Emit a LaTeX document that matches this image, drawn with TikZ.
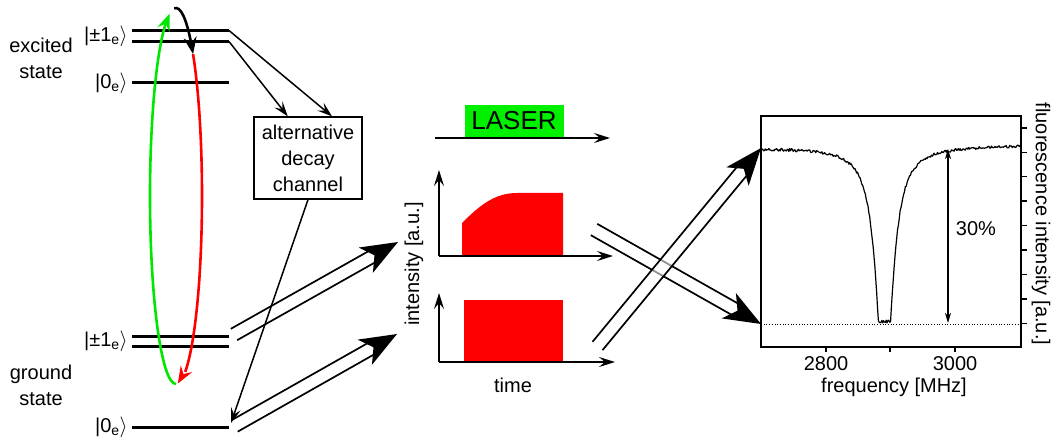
\documentclass[tikz,border=0pt]{standalone}
\usepackage{fontspec}
\setmainfont{Liberation Sans}
\usetikzlibrary{arrows.meta,bending,calc}
\definecolor{laser}{RGB}{0,240,0}
\definecolor{pump}{RGB}{0,230,0}
\definecolor{decay}{RGB}{255,0,0}

% Broad "hollow" arrow: two parallel shaft lines and a filled head.
% #1 = opacity of a white fill inside the shaft, #2 = start, #3 = tip
\newcommand\fatarrow[3][0]{%
  \path let \p1=($(#3)-(#2)$) in \pgfextra{%
    \pgfmathsetmacro\tmpang{atan2(\y1,\x1)}\global\let\fatang\tmpang
    \pgfmathsetmacro\tmplen{veclen(\x1,\y1)}\global\let\fatlen\tmplen};
  \begin{scope}[shift={(#2)}, rotate=\fatang, x=1pt, y=1pt]
    \fill[white, opacity=#1] (0,6.5) rectangle (\fatlen-30,-6.5);
    \draw[line width=1.7pt] (0,6.5) -- (\fatlen-30,6.5) (0,-6.5) -- (\fatlen-30,-6.5);
    \fill (\fatlen,0) -- (\fatlen-37,14.5) -- (\fatlen-27,0) -- (\fatlen-37,-14.5) -- cycle;
  \end{scope}}

\begin{document}
\begin{tikzpicture}[x=1pt,y=-1pt,
  every node/.style={font=\fontsize{20}{26}\selectfont, inner sep=0pt},
  level/.style={line width=3pt},
  thin arrow/.style={line width=1.5pt, -{Stealth[length=15pt,width=10pt,inset=6pt]}},
  axis/.style={line width=2pt, -{Stealth[length=16pt,width=10pt,inset=6pt]}},
  loop arc/.style={line width=2.6pt, -{Stealth[length=17pt,width=13pt,inset=6pt,flex]}},
  frame/.style={line width=1.8pt},
  tick/.style={line width=1.4pt},
]
\useasboundingbox (0,0) rectangle (1053,441);

% ---------------- energy levels ----------------
\foreach \name/\y in {ex1a/30.5, ex1b/41.5, ex0/83, gr1a/336, gr1b/346, gr0/427}{
  \coordinate (\name-l) at (132,\y);
  \coordinate (\name-r) at (229,\y);
  \draw[level] (\name-l) -- (\name-r);
}
\node[anchor=east] (lab-ex1) at (128,36) {|±1\textsubscript{e}$\rangle$};
\node[anchor=east] (lab-ex0) at (128,83) {|0\textsubscript{e}$\rangle$};
\node[anchor=east] (lab-gr1) at (128,341) {|±1\textsubscript{e}$\rangle$};
\node[anchor=east] (lab-gr0) at (128,427) {|0\textsubscript{e}$\rangle$};
\node[align=center] (excited) at (41,58) {excited\\state};
\node[align=center] (ground) at (41,385) {ground\\state};

% ---------------- decay channel box ----------------
\node[draw, line width=1.3pt, minimum width=108pt, minimum height=82pt, align=center]
  (box) at (308,158) {alternative\\decay\\channel};
\coordinate (box-in1) at ($(box.north west)!0.315!(box.north east)$);
\coordinate (box-in2) at ($(box.north west)!0.72!(box.north east)$);
\coordinate (gr0-in) at (231,423);

% ---------------- broad arrows ----------------
\coordinate (A0) at (234,334.5); \coordinate (A1) at (398,242);
\coordinate (B0) at (234.5,426); \coordinate (B1) at (397,334);
\coordinate (C0) at (594,229.5);
\coordinate (D0) at (597.5,346);
\coordinate (spec-top) at (761,148);
\coordinate (spec-base) at (761,324);
\fatarrow{A0}{A1}
\fatarrow{B0}{B1}
\fatarrow{C0}{spec-base}
\fatarrow[0.55]{D0}{spec-top}

% thin decay arrows
\draw[thin arrow] (ex1a-r) -- (box-in2);
\draw[thin arrow] (ex1b-r) -- (box-in1);
\draw[thin arrow] (box.south) -- (gr0-in);

% ---------------- optical cycle ----------------
\coordinate (loop) at (176,196);
\draw[loop arc, pump] ($(loop)+(90:26 and 188)$)
  arc[start angle=90, end angle=256, x radius=26, y radius=188];
\draw[loop arc, black] ($(loop)+(266:26 and 188)$)
  arc[start angle=266, end angle=311, x radius=26, y radius=188];
\draw[loop arc, decay] ($(loop)+(311:26 and 188)$)
  arc[start angle=311, end angle=446, x radius=26, y radius=188];

% ---------------- laser ----------------
\node[fill=laser, minimum width=99pt, minimum height=32pt,
  font=\fontsize{26}{30}\selectfont] (laser) at (514,121) {LASER};
\coordinate (laser-l) at (435,138);
\coordinate (laser-r) at (610,138);
\draw[axis] (laser-l) -- (laser-r);

% ---------------- pulse sketches ----------------
\coordinate (g1o) at (439,256);
\coordinate (g1y) at (439,170);
\coordinate (g1x) at (613,256);
\fill[decay] (462,256) -- (462,223) .. controls (480,205) and (495,193) .. (517,193)
  -- (563,193) -- (563,256) -- cycle;
\draw[axis] (g1o) -- (g1y);
\draw[axis] (g1o) -- (g1x);

\coordinate (g2o) at (439,362);
\coordinate (g2y) at (439,293);
\coordinate (g2x) at (615,362);
\fill[decay] (464,300) rectangle (563,362);
\draw[axis] (g2o) -- (g2y);
\draw[axis] (g2o) -- (g2x);

\node[rotate=90] (ylab) at (414,264) {intensity [a.u.]};
\node (tlab) at (513,385) {time};

% ---------------- ODMR spectrum ----------------
\pgfmathsetseed{7}
\draw[line width=1.2pt, line join=round]
  plot[domain=761:1021, samples=300]
  (\x, {148 - 3*(\x-761)/260 + min(175, 250/(1+((\x-884.5)/9.3)^2)) + 1.4*rand});
\draw[line width=0.7pt, dotted] (spec-base) -- (1019,324);
\draw[line width=1.2pt, {Stealth[length=10pt,width=6pt,inset=3pt]}-{Stealth[length=10pt,width=6pt,inset=3pt]}]
  (948,149) -- (948,323);
\node (pct) at (976,229) {30\%};

\coordinate (fr-nw) at (761,116);
\coordinate (fr-se) at (1021,347);
\draw[frame] (fr-nw) rectangle (fr-se);
\foreach \k in {0,...,8}
  \draw[tick] (1021,{128+24.4*\k}) -- (1027,{128+24.4*\k});
\foreach \xx in {826,890,955}
  \draw[tick] (\xx,347) -- (\xx,352);
\node (t2800) at (826,364) {2800};
\node (t3000) at (955,364) {3000};
\node (xlab) at (894,387) {frequency [MHz]};
\node[rotate=-90] (flab) at (1041,224) {fluorescence intensity [a.u.]};
\end{tikzpicture}
\end{document}
